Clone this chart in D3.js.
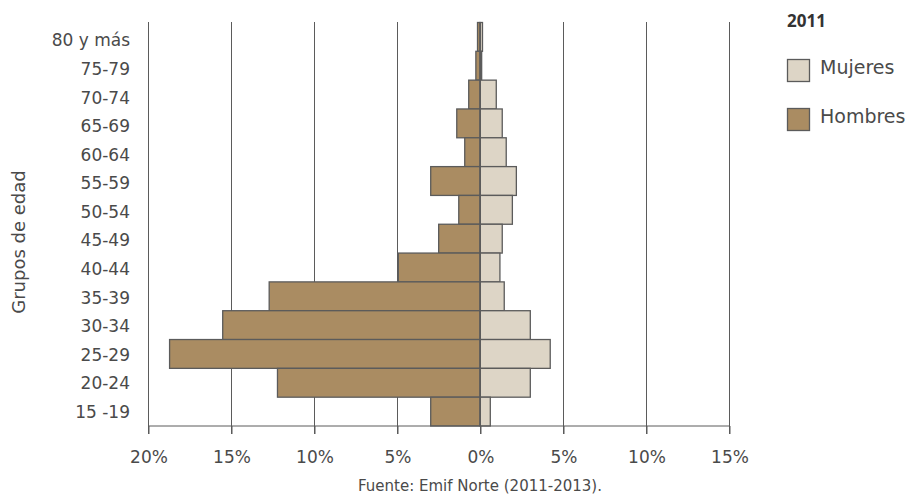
<!DOCTYPE html>
<html><head><meta charset="utf-8">
<script src="https://cdn.jsdelivr.net/npm/d3@7"></script>
<style>
body{margin:0;background:#fff;}
svg{display:block;font-family:"DejaVu Sans",sans-serif;}
</style></head><body>
<svg id="c" width="908" height="495"></svg>
<script>
const groups = ["80 y más","75-79","70-74","65-69","60-64","55-59","50-54","45-49","40-44","35-39","30-34","25-29","20-24","15 -19"];
const hombres = [0.15,0.25,0.68,1.4,0.92,2.97,1.28,2.49,4.92,12.7,15.5,18.7,12.2,2.97];
const mujeres = [0.15,0.1,0.98,1.34,1.58,2.19,1.95,1.34,1.2,1.46,3.03,4.23,3.03,0.62];
const tickValues = [-20,-15,-10,-5,0,5,10,15];
const tickLabels = ["20%","15%","10%","5%","0%","5%","10%","15%"];
const legendTitle = "2011";
const legendLabels = ["Mujeres","Hombres"];

const svg = d3.select("#c");
const x = d3.scaleLinear().domain([-20,15]).range([148,729]);
const y = d3.scaleBand().domain(groups).range([22.5,426]).padding(0);
const yl = d3.scalePoint().domain(groups).range([40.5,412]);
const txt = "#4a4a4a";
const lineC = "#5b5b5b";

// gridlines
svg.append("g").selectAll("line").data(tickValues).join("line")
  .attr("x1",d=>x(d)+0.5).attr("x2",d=>x(d)+0.5)
  .attr("y1",22).attr("y2",434)
  .attr("stroke",lineC).attr("stroke-width",1);

// bars
const bars = svg.append("g");
bars.selectAll("rect.h").data(groups).join("rect").attr("class","h")
  .attr("x",(d,i)=>x(-hombres[i])).attr("width",(d,i)=>x(0)-x(-hombres[i]))
  .attr("y",d=>y(d)).attr("height",y.bandwidth())
  .attr("fill","#aa8c62").attr("stroke",lineC).attr("stroke-width",1.3);
bars.selectAll("rect.m").data(groups).join("rect").attr("class","m")
  .attr("x",x(0)).attr("width",(d,i)=>x(mujeres[i])-x(0))
  .attr("y",d=>y(d)).attr("height",y.bandwidth())
  .attr("fill","#ddd5c6").attr("stroke",lineC).attr("stroke-width",1.3);

// zero line on top
svg.append("line").attr("x1",x(0)+0.5).attr("x2",x(0)+0.5).attr("y1",22).attr("y2",434)
  .attr("stroke",lineC).attr("stroke-width",1);

// x axis
const xAxis = d3.axisBottom(x).tickValues(tickValues).tickFormat((d,i)=>tickLabels[i]).tickSize(8).tickPadding(17);
const gx = svg.append("g").attr("transform","translate(0.5,426)").call(xAxis);
gx.select(".domain").attr("d",`M${x(-20)},0H${x(15)}`).attr("stroke",lineC);
gx.selectAll(".tick line").attr("stroke",lineC);
gx.selectAll(".tick text").attr("fill",txt).attr("font-size",17).attr("font-family","'DejaVu Sans',sans-serif");

// y axis labels
const yAxis = d3.axisLeft(yl).tickSize(0).tickPadding(18);
const gy = svg.append("g").attr("transform","translate(148,0)").call(yAxis);
gy.select(".domain").remove();
gy.selectAll(".tick text").attr("fill",txt).attr("font-size",17).attr("font-family","'DejaVu Sans',sans-serif");

// y title
svg.append("text").attr("transform","translate(25,242) rotate(-90)").attr("text-anchor","middle")
  .attr("fill",txt).attr("font-size",18).text("Grupos de edad");

// footer
svg.append("text").attr("x",480).attr("y",491).attr("text-anchor","middle")
  .attr("fill",txt).attr("font-size",15).text("Fuente: Emif Norte (2011-2013).");

// legend
const lg = svg.append("g");
lg.append("text").attr("x",787).attr("y",27).attr("fill","#333").attr("font-weight","bold")
  .attr("font-family","'Open Sans',sans-serif").attr("font-size",17).text(legendTitle);
const lcol = ["#ddd5c6","#aa8c62"];
legendLabels.forEach((l,i)=>{
  lg.append("rect").attr("x",787.5).attr("y",59.5+i*49).attr("width",22).attr("height",22)
    .attr("fill",lcol[i]).attr("stroke",lineC).attr("stroke-width",1.3);
  lg.append("text").attr("x",820).attr("y",74+i*49).attr("fill",txt).attr("font-size",19).text(l);
});
</script>
</body></html>
